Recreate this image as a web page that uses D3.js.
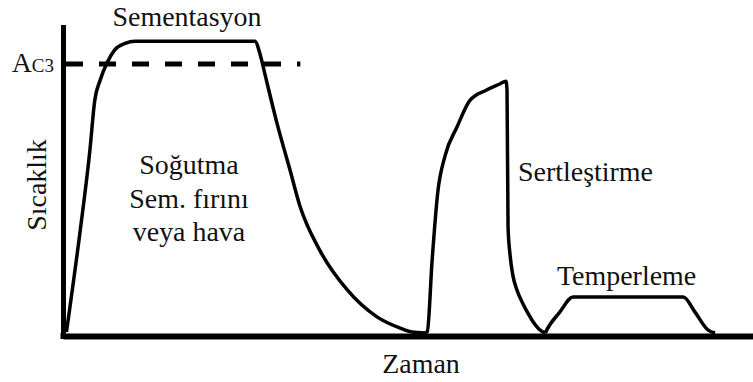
<!DOCTYPE html>
<html>
<head>
<meta charset="utf-8">
<script src="https://cdn.jsdelivr.net/npm/d3@7"></script>
<style>
body{margin:0;background:#fff;}
text{font-family:"Liberation Serif","Tinos","Times New Roman","DejaVu Serif","Noto Serif","FreeSerif",serif;fill:#111;}
</style>
</head>
<body>
<div id="chart"></div>
<script>
// time (0-100) / temperature (deg C)
var sementasyon = [[0.5,3],[2.5,325],[3.9,578],[4.6,735],[5.4,800],[6.4,855],[7.5,895],[9.0,915],[10.4,922],
  [27.8,922],[28.6,878],[29.3,815],[31.0,664],[32.9,515],[34.3,404],[37.2,262],[41.2,136],[45.5,51],[48.8,16],[50.6,3],[52.5,0]];
var sertlestirme = [[52.5,0],[52.8,5],[53.5,231],[54.3,442],[55.4,562],[57.1,651],[59.0,736],[61.4,768],[63.3,787],[64.2,796],
  [64.35,768],[64.5,335],[64.8,245],[65.2,182],[65.8,135],[66.6,95],[67.4,62],[68.2,33],[69.0,12],[69.9,0]];
var temperleme = [[69.9,0],[70.1,9],[72.0,66],[73.9,114],[89.9,114],[91.6,66],[93.5,9],[94.5,0]];
var ac3 = 850;
var dashEnd = 34.4;
var labels = ["Sementasyon","Soğutma","Sem. fırını","veya hava","Sertleştirme","Temperleme"];

var w = 753, h = 382;
var svg = d3.select("#chart").append("svg").attr("width", w).attr("height", h);

var x = d3.scaleLinear().domain([0,100]).range([63,753]);
var y = d3.scaleLinear().domain([0,975]).range([333,24.5]);

var line = d3.line()
  .x(function(d){return x(d[0]);})
  .y(function(d){return y(d[1]);})
  .curve(d3.curveMonotoneX);

// Ac3 dashed line
svg.append("line")
  .attr("x1", x(0)+3).attr("x2", x(dashEnd))
  .attr("y1", y(ac3)).attr("y2", y(ac3))
  .attr("stroke","#000").attr("stroke-width",5)
  .attr("stroke-dasharray","17,16");

[sementasyon, sertlestirme, temperleme].forEach(function(s){
  svg.append("path")
    .datum(s)
    .attr("d", line)
    .attr("fill","none")
    .attr("stroke","#000")
    .attr("stroke-width",3.5)
    .attr("stroke-linejoin","round");
});

// axes, no ticks
var yAxis = svg.append("g").attr("transform","translate(" + x(0) + ",0)")
  .call(d3.axisLeft(y).tickValues([]).tickSizeOuter(0));
yAxis.select(".domain").attr("stroke","#000").attr("stroke-width",5);

var xAxis = svg.append("g").attr("transform","translate(0," + (y(0)+3) + ")")
  .call(d3.axisBottom(x).tickValues([]).tickSizeOuter(0));
xAxis.select(".domain").attr("stroke","#000").attr("stroke-width",6);
svg.append("line").attr("x1",x(0)-2.5).attr("x2",x(0)+2.5)
  .attr("y1",y(0)+3).attr("y2",y(0)+3).attr("stroke","#000").attr("stroke-width",6);

// font size: fit "Sementasyon" to its width in the picture
var probe = svg.append("text").style("font-size","27px").text(labels[0]);
var fs = 27 * 149 / probe.node().getComputedTextLength();
probe.remove();

svg.append("text").attr("x",187).attr("y",26).attr("text-anchor","middle")
  .style("font-size",fs+"px").text(labels[0]);

var ac = svg.append("text").attr("x",54).attr("y",72).attr("text-anchor","end").style("font-size",fs+"px");
ac.append("tspan").text("A");
ac.append("tspan").style("font-size",(fs*0.68)+"px").text("C3");

svg.selectAll(".cool").data([labels[1],labels[2],labels[3]]).enter()
  .append("text").attr("class","cool")
  .attr("x",189).attr("y",function(d,i){return 174 + i*33.5;})
  .attr("text-anchor","middle").style("font-size",fs+"px").text(String);

svg.append("text").attr("x",518).attr("y",181).style("font-size",fs+"px").text(labels[4]);
svg.append("text").attr("x",557).attr("y",285).style("font-size",fs+"px").text(labels[5]);

svg.append("text").attr("x",421).attr("y",373).attr("text-anchor","middle")
  .style("font-size",fs+"px").text("Zaman");
svg.append("text").attr("transform","translate(46,185) rotate(-90)")
  .attr("text-anchor","middle").style("font-size",fs+"px").text("Sıcaklık");
</script>
</body>
</html>
